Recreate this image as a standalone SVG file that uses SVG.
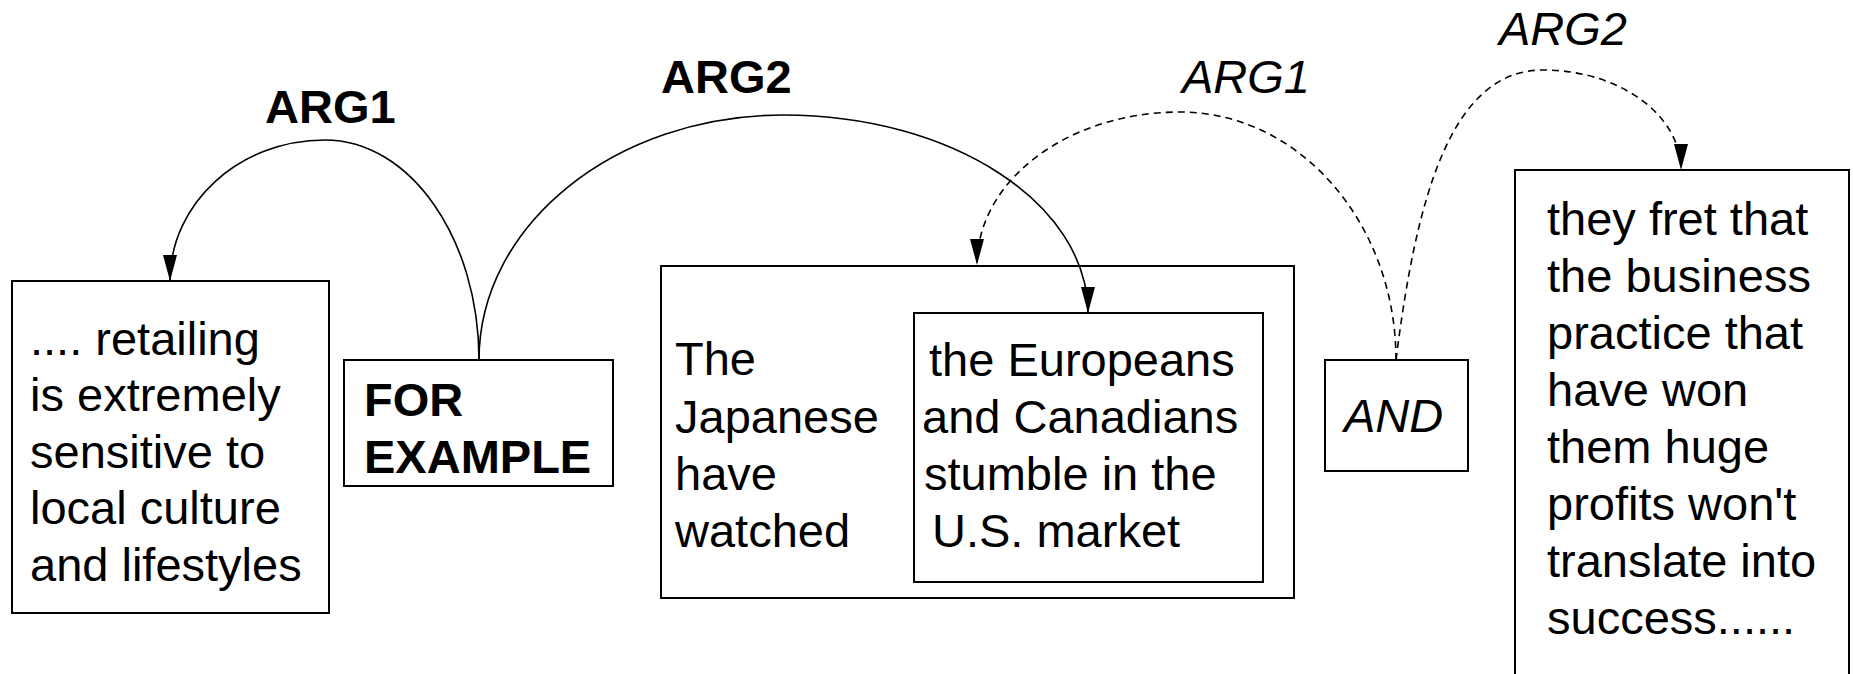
<svg xmlns="http://www.w3.org/2000/svg" width="1853" height="674" viewBox="0 0 1853 674">
<style>
.box{fill:none;stroke:#000;stroke-width:2}
.t{font-family:"Liberation Sans",Arial,sans-serif;font-size:47px;fill:#000}
.b{font-weight:bold}
.i{font-style:italic}
.arc{fill:none;stroke:#000;stroke-width:1.6}
.dash{stroke-dasharray:7,5}
</style>
<defs>
<marker id="ah" markerUnits="userSpaceOnUse" markerWidth="28" markerHeight="16" refX="26" refY="7" orient="auto">
<path d="M0,0 L26,7 L0,14 z" fill="#000" stroke="none"/>
</marker>
</defs>
<rect width="1853" height="674" fill="#fff"/>
<g id="n_retailing">
<rect class="box" x="12" y="281" width="317" height="332"/>
<text class="t" x="30"><tspan x="30" y="355">.... retailing</tspan><tspan x="30" y="411">is extremely</tspan><tspan x="30" y="468">sensitive to</tspan><tspan x="30" y="524">local culture</tspan><tspan x="30" y="581">and lifestyles</tspan></text>
</g>
<g id="n_forexample">
<rect class="box" x="344" y="360" width="269" height="126"/>
<text class="t b" x="364"><tspan x="364" y="416">FOR</tspan><tspan x="364" y="473">EXAMPLE</tspan></text>
</g>
<g id="n_japanese">
<rect class="box" x="661" y="266" width="633" height="332"/>
<text class="t" x="675"><tspan x="675" y="375">The</tspan><tspan x="675" y="433">Japanese</tspan><tspan x="675" y="490">have</tspan><tspan x="675" y="547">watched</tspan></text>
</g>
<g id="n_europeans">
<rect class="box" x="914" y="313" width="349" height="269"/>
<text class="t"><tspan x="929" y="376">the Europeans</tspan><tspan x="922" y="433">and Canadians</tspan><tspan x="924" y="490">stumble in the</tspan><tspan x="932" y="547">U.S. market</tspan></text>
</g>
<g id="n_and">
<rect class="box" x="1325" y="360" width="143" height="111"/>
<text class="t i" x="1344" y="432">AND</text>
</g>
<g id="n_fret">
<rect class="box" x="1515" y="170" width="334" height="530"/>
<text class="t"><tspan x="1547" y="235">they fret that</tspan><tspan x="1547" y="292">the business</tspan><tspan x="1547" y="349">practice that</tspan><tspan x="1547" y="406">have won</tspan><tspan x="1547" y="463">them huge</tspan><tspan x="1547" y="520">profits won't</tspan><tspan x="1547" y="577">translate into</tspan><tspan x="1547" y="634">success......</tspan></text>
</g>
<g id="connectors">
<path class="arc" d="M479,360 C479,238.5 410,140 325,140 C239.4,140 170,203.1 170,281" marker-end="url(#ah)"/>
<path class="arc" d="M479,360 C479,224.7 615.3,115 783.5,115 C951.7,115 1088,203.6 1088,313" marker-end="url(#ah)"/>
<path class="arc dash" d="M1396,360 C1396,223 1299.3,112 1180,112 C1067.9,112 977,180.5 977,265" marker-end="url(#ah)"/>
<path class="arc dash" d="M1396,360 C1416,200 1450,70 1543,70 C1619.2,70 1681,114.8 1681,170" marker-end="url(#ah)"/>
<text class="t b" x="265" y="123">ARG1</text>
<text class="t b" x="661" y="93">ARG2</text>
<text class="t i" x="1182" y="93">ARG1</text>
<text class="t i" x="1499" y="45">ARG2</text>
</g>
</svg>
